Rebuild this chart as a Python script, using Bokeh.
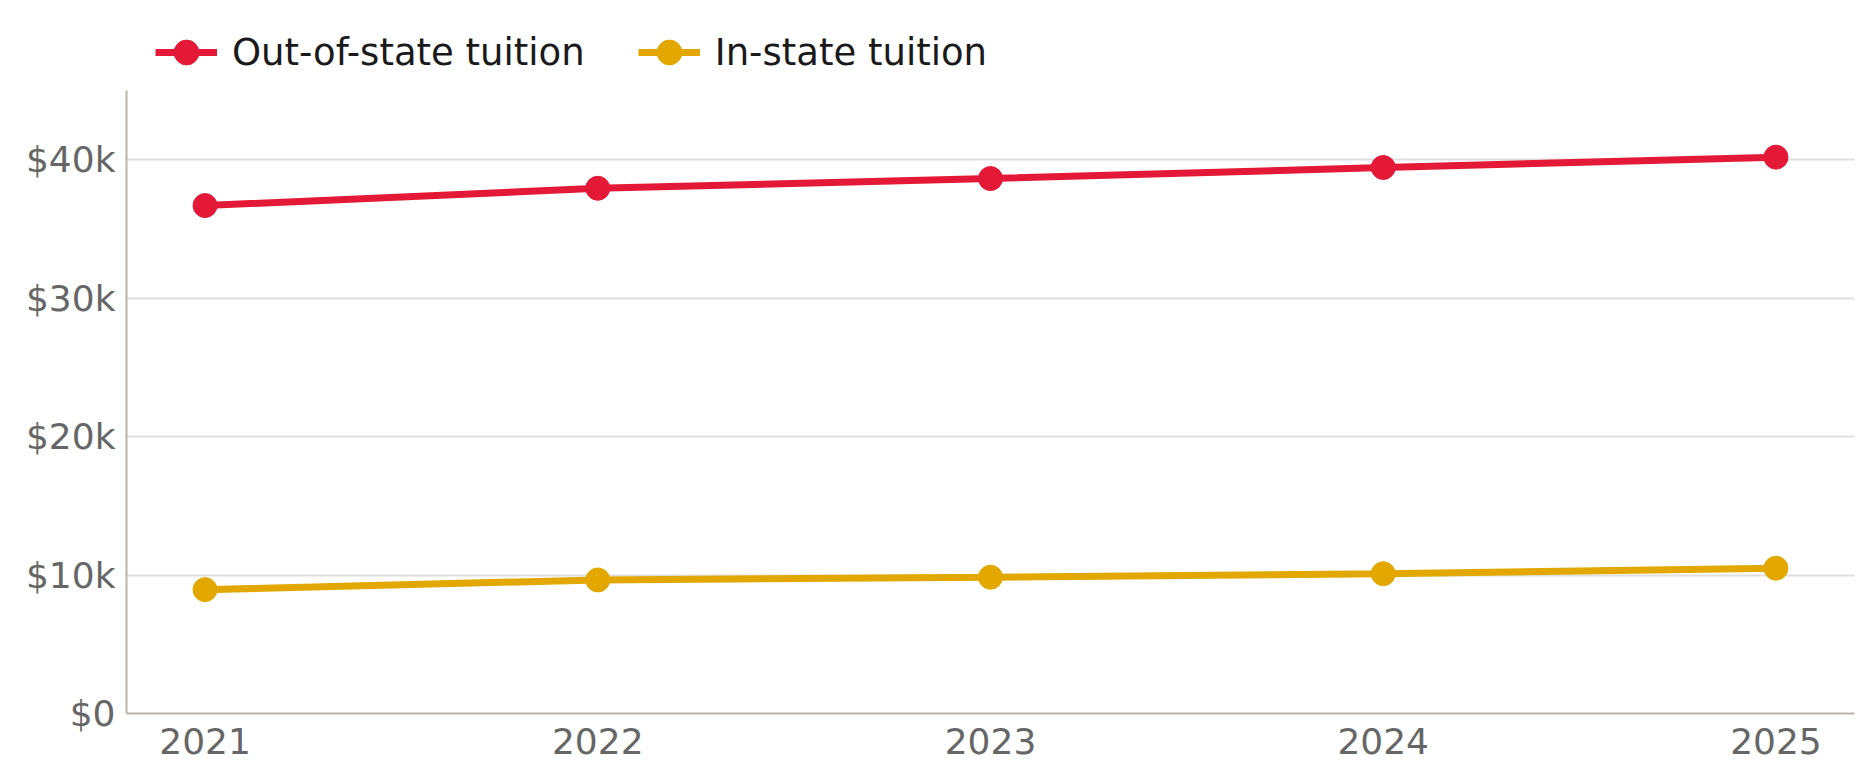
from bokeh.plotting import figure
from bokeh.models import Range1d, FixedTicker, Legend, LegendItem
from bokeh.embed import file_html
from bokeh.resources import INLINE

years = [2021, 2022, 2023, 2024, 2025]
out_of_state = [36700, 37950, 38650, 39450, 40200]
in_state = [8950, 9650, 9850, 10100, 10500]
year_labels = ["2021", "2022", "2023", "2024", "2025"]
y_ticks = [0, 10000, 20000, 30000, 40000]
y_tick_labels = ["$0", "$10k", "$20k", "$30k", "$40k"]
series_names = ["Out-of-state tuition", "In-state tuition"]

RED = "#E31937"
GOLD = "#E2A800"
FONT = "DejaVu Sans"

# frame: left 126, right 1854, bottom 713; axis top (45k) at 90
W, H = 1859, 770
p = figure(width=W, height=H, output_backend="svg", toolbar_location=None,
           x_range=Range1d(2020.8, 2025.2), y_range=Range1d(0, 50000))
p.min_border_left = 126
p.min_border_right = W - 1854
p.min_border_top = 21
p.min_border_bottom = H - 713
p.outline_line_color = None
p.background_fill_color = "white"

r1 = p.line(years, out_of_state, line_color=RED, line_width=7)
s1 = p.scatter(years, out_of_state, size=24, fill_color=RED, line_color=RED)
r2 = p.line(years, in_state, line_color=GOLD, line_width=7)
s2 = p.scatter(years, in_state, size=24, fill_color=GOLD, line_color=GOLD)

p.xaxis.ticker = FixedTicker(ticks=years)
p.xaxis.major_label_overrides = {y: l for y, l in zip(years, year_labels)}
p.yaxis.ticker = FixedTicker(ticks=y_ticks)
p.yaxis.major_label_overrides = {t: l for t, l in zip(y_ticks, y_tick_labels)}
p.yaxis.bounds = (0, 45000)

for ax in (p.xaxis, p.yaxis):
    ax.axis_line_color = "#b8b4aa"
    ax.axis_line_width = 2
    ax.major_tick_line_color = None
    ax.minor_tick_line_color = None
    ax.major_label_text_font = FONT
    ax.major_label_text_font_size = "36px"
    ax.major_label_text_color = "#666666"
p.xaxis.major_label_standoff = 8
p.yaxis.major_label_standoff = 5

p.xgrid.grid_line_color = None
p.ygrid.grid_line_color = "#e0e0e0"
p.ygrid.grid_line_width = 2

legend = Legend(items=[LegendItem(label=series_names[0], renderers=[r1, s1]),
                       LegendItem(label=series_names[1], renderers=[r2, s2])],
                orientation="horizontal", location=(29, 630))
legend.margin = 0
legend.padding = 0
legend.spacing = 53
legend.glyph_width = 62
legend.glyph_height = 62
legend.label_height = 30
legend.label_standoff = 15
legend.label_text_font = FONT
legend.label_text_font_size = "37px"
legend.label_text_color = "#1a1a1a"
legend.background_fill_alpha = 0
legend.border_line_color = None
p.add_layout(legend, "center")

open("out.html", "w").write(file_html(p, INLINE))
